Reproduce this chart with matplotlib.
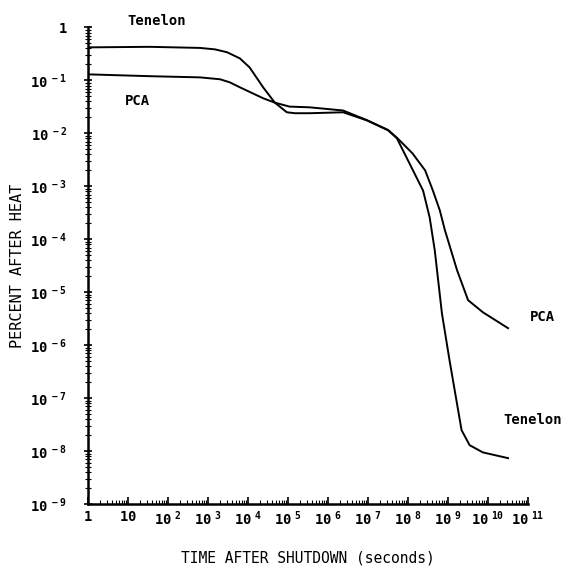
import numpy as np
import matplotlib
matplotlib.use('Agg')
import matplotlib.pyplot as plt
import matplotlib.ticker as ticker

plt.rcParams['font.family'] = 'DejaVu Sans Mono'

# Values (time in seconds, percent after heat)
tenelon_t = [1, 35, 630, 1.5e3, 3.0e3, 6.3e3, 1.1e4, 2.4e4, 4.7e4, 9.4e4, 1.5e5, 3.5e5,
             2.4e6, 9.4e6, 3.2e7, 5.3e7, 1.1e8, 2.4e8, 3.5e8, 4.7e8, 7.1e8,
             1.1e9, 2.2e9, 3.5e9, 7.5e9, 3.2e10]
tenelon_p = [0.42, 0.43, 0.41, 0.385, 0.34, 0.26, 0.176, 0.074, 0.038, 0.025, 0.024, 0.024,
             0.025, 0.0176, 0.0114, 0.0081, 0.0027, 8.3e-4, 2.6e-4, 6.2e-5, 4e-6,
             5.2e-7, 2.5e-8, 1.3e-8, 9.5e-9, 7.4e-9]

pca_t = [1, 35, 630, 2.0e3, 3.5e3, 6.3e3, 2.4e4, 4.7e4, 1.1e5, 3.5e5, 2.4e6, 9.4e6, 3.2e7,
         5.3e7, 1.3e8, 2.7e8, 4.2e8, 6.3e8, 8.4e8, 1.7e9, 3.2e9, 7.5e9, 3.2e10]
pca_p = [0.13, 0.12, 0.114, 0.105, 0.092, 0.074, 0.046, 0.038, 0.032, 0.031, 0.027, 0.0178, 0.0116,
         0.0083, 0.0042, 0.002, 8.4e-4, 3.5e-4, 1.5e-4, 2.6e-5, 7.1e-6, 4.2e-6, 2.1e-6]

x_exp = list(range(0, 12))
y_exp = list(range(-9, 1))
x_labels = [r'$\mathregular{1}$', r'$\mathregular{10}$'] + \
           [r'$\mathregular{10^{\ %d}}$' % k for k in x_exp[2:]]
y_labels = [r'$\mathregular{10^{\ %d}}$' % k for k in y_exp[:-1]] + [r'$\mathregular{1}$']

fig = plt.figure(figsize=(5.75, 5.71), dpi=100)
ax = fig.add_axes([0.153, 0.117, 0.765, 0.835])

ax.plot(tenelon_t, tenelon_p, color='black', lw=1.4)
ax.plot(pca_t, pca_p, color='black', lw=1.4)

ax.set_xscale('log')
ax.set_yscale('log')

for s in ['top', 'right']:
    ax.spines[s].set_visible(False)
for s in ['left', 'bottom']:
    ax.spines[s].set_linewidth(1.8)

# major ticks with bold plotter-style labels
ax.set_xticks([10.0**k for k in x_exp], x_labels, fontweight='bold', fontsize=10)
ax.set_yticks([10.0**k for k in y_exp], y_labels, fontweight='bold', fontsize=10)
ax.xaxis.set_minor_locator(ticker.LogLocator(subs=np.arange(2, 10), numticks=100))
ax.xaxis.set_minor_formatter(ticker.NullFormatter())
ax.yaxis.set_minor_locator(ticker.LogLocator(subs=np.arange(2, 10), numticks=100))
ax.yaxis.set_minor_formatter(ticker.NullFormatter())
ax.set_xlim(1, 1e11)
ax.set_ylim(1e-9, 1)

ax.tick_params(axis='x', which='major', direction='in', length=5, width=1.2, pad=4)
ax.tick_params(axis='x', which='minor', direction='in', length=3, width=0.8)
ax.tick_params(axis='y', which='major', direction='inout', length=6, width=1.2, pad=12)
ax.tick_params(axis='y', which='minor', direction='inout', length=4, width=0.8)

ax.set_xlabel('TIME AFTER SHUTDOWN (seconds)', fontsize=10.5, labelpad=16)
ax.set_ylabel('PERCENT AFTER HEAT', fontsize=11, labelpad=4)

ax.text(10**1.725, 10**0.13, 'Tenelon', fontsize=10, fontweight='bold',
        ha='center', va='center', clip_on=False)
ax.text(10**1.225, 10**-1.38, 'PCA', fontsize=10, fontweight='bold',
        ha='center', va='center', clip_on=False)
ax.text(10**11.375, 10**-5.47, 'PCA', fontsize=10, fontweight='bold',
        ha='center', va='center', clip_on=False)
ax.text(10**11.125, 10**-7.42, 'Tenelon', fontsize=10, fontweight='bold',
        ha='center', va='center', clip_on=False)

fig.savefig('out.png', dpi=100)
